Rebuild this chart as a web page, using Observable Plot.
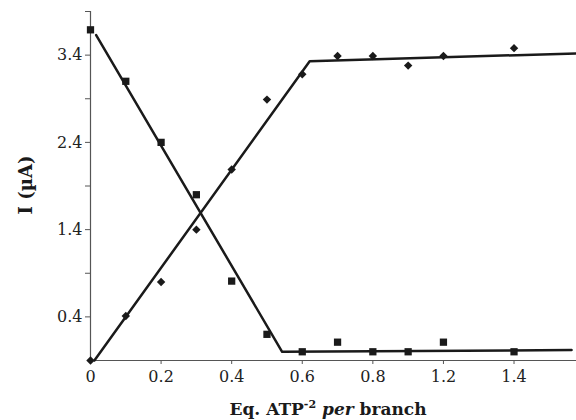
<!DOCTYPE html>
<html><head><meta charset="utf-8">
<script src="https://cdn.jsdelivr.net/npm/d3@7"></script>
<script src="https://cdn.jsdelivr.net/npm/@observablehq/plot@0.6"></script>
<style>body{margin:0;background:#fff}</style>
</head><body><div id="chart"></div>
<script>
// Equivalents of ATP (positions along the axis)
const eqATP = [0, 0.1, 0.2, 0.3, 0.4, 0.5, 0.6, 0.7, 0.8, 0.9, 1.0, 1.2];
// Square series (decreasing current)
const currentSquares = [3.69, 3.10, 2.40, 1.80, 0.81, 0.20, 0.00, 0.11, 0.00, 0.00, 0.11, 0.00];
// Diamond series (increasing current)
const currentDiamonds = [-0.10, 0.41, 0.80, 1.40, 2.09, 2.89, 3.18, 3.39, 3.39, 3.28, 3.39, 3.48];
// Fitted piecewise lines
const fitDownX = [0.016, 0.543, 1.363];
const fitDownY = [3.63, 0.00, 0.02];
const fitUpX = [0.011, 0.621, 1.377];
const fitUpY = [-0.10, 3.33, 3.42];
// Tick labels
const xTickValues = [0, 0.2, 0.4, 0.6, 0.8, 1.0, 1.2];
const xTickLabels = ["0", "0.2", "0.4", "0.6", "0.8", "1.2", "1.4"];
const yTickValues = [0.4, 1.4, 2.4, 3.4];
const yMinorTicks = [0.9, 1.9, 2.9, 3.9];
const xDomain = [0, 1.377];
const yDomain = [-0.1, 3.9];

const squares = eqATP.map((x, i) => ({x, y: currentSquares[i]}));
const diamonds = eqATP.map((x, i) => ({x, y: currentDiamonds[i]}));
const fitDown = fitDownX.map((x, i) => ({x, y: fitDownY[i]}));
const fitUp = fitUpX.map((x, i) => ({x, y: fitUpY[i]}));

const axisColor = "#555";
const ink = "#1a1a1a";
const serif = "DejaVu Serif";

const chart = Plot.plot({
  width: 576, height: 420,
  marginLeft: 90, marginRight: 0, marginTop: 11, marginBottom: 60,
  style: {fontFamily: serif, fontSize: "16px", color: "#222", background: "#fff", overflow: "visible"},
  x: {domain: xDomain},
  y: {domain: yDomain},
  marks: [
    Plot.ruleX([0], {y1: yDomain[0], y2: yDomain[1], stroke: axisColor, strokeWidth: 1.2}),
    Plot.ruleY([yDomain[0]], {x1: xDomain[0], x2: xDomain[1], stroke: axisColor, strokeWidth: 1.2}),
    Plot.axisY(yTickValues, {tickSize: 5, tickPadding: 3, stroke: axisColor, label: null, fontFamily: serif, tickFormat: d => d.toFixed(1)}),
    Plot.axisY(yMinorTicks, {tickSize: 5, stroke: axisColor, label: null, tickFormat: () => ""}),
    Plot.axisX(xTickValues, {tickSize: 4, tickPadding: 6, stroke: axisColor, label: null, fontFamily: serif,
      tickFormat: d => xTickLabels[xTickValues.indexOf(d)]}),
    Plot.line(fitDown, {x: "x", y: "y", stroke: ink, strokeWidth: 2.5, clip: false}),
    Plot.line(fitUp, {x: "x", y: "y", stroke: ink, strokeWidth: 2.5, clip: false}),
    Plot.dot(squares, {x: "x", y: "y", symbol: "square", r: 4.1, fill: ink, stroke: "none"}),
    Plot.dot(diamonds, {x: "x", y: "y", symbol: "diamond2", r: 3.8, fill: ink, stroke: "none"})
  ]
});

const svg = d3.select(chart);
// Y axis title
svg.append("text")
  .attr("transform", "translate(27,185) rotate(-90)")
  .attr("text-anchor", "middle")
  .attr("dominant-baseline", "middle")
  .attr("font-family", serif)
  .attr("font-weight", "bold")
  .attr("font-size", 18)
  .attr("fill", ink)
  .text("I (µA)");
// X axis title
const xt = svg.append("text")
  .attr("x", 328).attr("y", 415)
  .attr("text-anchor", "middle")
  .attr("font-family", serif)
  .attr("font-weight", "bold")
  .attr("font-size", 17)
  .attr("fill", ink);
xt.append("tspan").text("Eq. ATP");
xt.append("tspan").attr("font-size", 11).attr("dy", -7).text("-2");
xt.append("tspan").attr("dy", 7).text(" ");
xt.append("tspan").attr("font-style", "italic").text("per");
xt.append("tspan").text(" branch");

document.getElementById("chart").appendChild(chart);
</script>
</body></html>
